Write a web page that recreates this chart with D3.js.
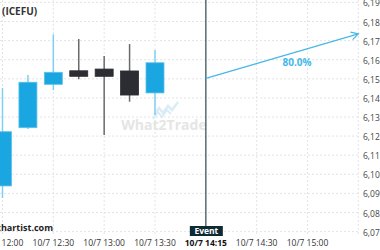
<!DOCTYPE html>
<html>
<head>
<meta charset="utf-8">
<script src="https://cdn.jsdelivr.net/npm/d3@7"></script>
<style>
  body { margin: 0; background: #fff; }
  svg { display: block; font-family: "Open Sans", sans-serif; }
</style>
</head>
<body>
<div id="container"></div>
<script>
// candle data (15 min bars)
const times = ["12:00", "12:15", "12:30", "12:45", "13:00", "13:15", "13:30"];
const opens = [6.0989, 6.1294, 6.1521, 6.1592, 6.1601, 6.1591, 6.1476];
const highs = [6.1502, 6.1570, 6.1783, 6.1758, 6.1669, 6.1732, 6.1701];
const lows = [6.0926, 6.1287, 6.1491, 6.1547, 6.1256, 6.1430, 6.1360];
const closes = [6.1273, 6.1532, 6.1584, 6.1563, 6.1563, 6.1465, 6.1634];

const yTicks = [6.075, 6.085, 6.095, 6.105, 6.115, 6.125, 6.135, 6.145, 6.155, 6.165, 6.175, 6.185, 6.195];
const xTicks = ["12:00", "12:30", "13:00", "13:30", "14:00", "14:30", "15:00", "15:30"];
const xTickLabels = ["10/7 12:00", "10/7 12:30", "10/7 13:00", "10/7 13:30", "10/7 14:15", "10/7 14:30", "10/7 15:00", ""];

const eventTime = "14:00";
const eventPrice = 6.1552;
const targetTime = "15:30";
const targetPrice = 6.1785;
const probability = "80.0%";

const width = 380, height = 250;
const parse = d3.timeParse("%H:%M");

const x = d3.scaleTime()
  .domain([parse("12:00"), parse("15:00")])
  .range([2.5, 307.5]);
const y = d3.scaleLinear()
  .domain([6.075, 6.195])
  .range([231.6, 2.4]);

const svg = d3.select("#container")
  .append("svg")
  .attr("width", width)
  .attr("height", height);

// grid
svg.append("g")
  .selectAll("line")
  .data(yTicks)
  .enter()
  .append("line")
  .attr("x1", 0)
  .attr("x2", 360)
  .attr("y1", d => y(d))
  .attr("y2", d => y(d))
  .style("stroke", "#e4e4e4")
  .style("stroke-dasharray", "2,2");

svg.append("g")
  .selectAll("line")
  .data(xTicks)
  .enter()
  .append("line")
  .attr("x1", d => x(parse(d)))
  .attr("x2", d => x(parse(d)))
  .attr("y1", 0)
  .attr("y2", 236)
  .style("stroke", "#e4e4e4")
  .style("stroke-dasharray", "2,2");

// y labels
svg.append("g")
  .selectAll("text")
  .data(yTicks)
  .enter()
  .append("text")
  .attr("x", 363)
  .attr("y", d => y(d) + 4)
  .style("font-size", "8.5px")
  .style("fill", "#444")
  .text(d => d3.format(".3f")(d).replace(".", ","));

// x labels
svg.append("g")
  .selectAll("text")
  .data(xTicks)
  .enter()
  .append("text")
  .attr("x", d => x(parse(d)))
  .attr("y", 246)
  .attr("text-anchor", "middle")
  .style("font-size", "8.5px")
  .style("font-weight", (d, i) => d == eventTime ? "bold" : "normal")
  .style("fill", (d, i) => d == eventTime ? "#111" : "#333")
  .text((d, i) => xTickLabels[i]);

// watermark
const wm = svg.append("g").attr("opacity", 0.9);
wm.append("polyline")
  .attr("points", "154,115 159,108 163,113 168,106 172,110 178,102")
  .style("fill", "none")
  .style("stroke", "#d6ecf7")
  .style("stroke-width", 2.5);
wm.append("polyline")
  .attr("points", "153,119 158,112 162,117 167,110 171,114")
  .style("fill", "none")
  .style("stroke", "#d6ecf7")
  .style("stroke-width", 2);
wm.append("text")
  .attr("x", 164)
  .attr("y", 130)
  .attr("text-anchor", "middle")
  .style("font-size", "14px")
  .style("font-weight", "bold")
  .style("fill", "#e3e3e3")
  .text("What2Trade");

// candles
const candleW = 18;
const candles = svg.append("g")
  .selectAll("g")
  .data(times.map((t, i) => ({ t: parse(t), o: opens[i], h: highs[i], l: lows[i], c: closes[i] })))
  .enter()
  .append("g");

candles.append("line")
  .attr("x1", d => x(d.t))
  .attr("x2", d => x(d.t))
  .attr("y1", d => y(d.h))
  .attr("y2", d => y(d.l))
  .style("stroke", d => d.c >= d.o ? "#7fd0f0" : "#6a6a6a")
  .style("stroke-width", 1.5);

candles.append("rect")
  .attr("x", d => x(d.t) - candleW / 2)
  .attr("width", candleW)
  .attr("y", d => y(Math.max(d.o, d.c)))
  .attr("height", d => Math.abs(y(d.o) - y(d.c)))
  .style("fill", d => d.c >= d.o ? "#1aa6e0" : "#2c2d33")
  .style("stroke", d => d.c >= d.o ? "#5ec1ea" : "#2c2d33")
  .style("stroke-width", 0.8);

// event line
const ex = x(parse(eventTime));
svg.append("line")
  .attr("x1", ex)
  .attr("x2", ex)
  .attr("y1", 0)
  .attr("y2", 228)
  .style("stroke", "#4b6466")
  .style("stroke-width", 1.4);

svg.append("rect")
  .attr("x", ex - 16)
  .attr("y", 226)
  .attr("width", 33)
  .attr("height", 10)
  .style("fill", "#0f2a32");
svg.append("text")
  .attr("x", ex + 0.5)
  .attr("y", 234)
  .attr("text-anchor", "middle")
  .style("font-size", "8.5px")
  .style("font-weight", "bold")
  .style("fill", "#fff")
  .text("Event");

// forecast arrow
const ax1 = ex, ay1 = y(eventPrice);
const ax2 = x(parse(targetTime)), ay2 = y(targetPrice);
svg.append("line")
  .attr("x1", ax1)
  .attr("y1", ay1)
  .attr("x2", ax2)
  .attr("y2", ay2)
  .style("stroke", "#45b8e8")
  .style("stroke-width", 1.2);
const ang = Math.atan2(ay2 - ay1, ax2 - ax1);
const hl = 8;
svg.append("polyline")
  .attr("points", [
    [ax2 - hl * Math.cos(ang - 0.5), ay2 - hl * Math.sin(ang - 0.5)],
    [ax2, ay2],
    [ax2 - hl * Math.cos(ang + 0.5), ay2 - hl * Math.sin(ang + 0.5)]
  ].map(p => p.join(",")).join(" "))
  .style("fill", "none")
  .style("stroke", "#45b8e8")
  .style("stroke-width", 1.2);
svg.append("text")
  .attr("x", 297)
  .attr("y", 66)
  .attr("text-anchor", "middle")
  .style("font-size", "10px")
  .style("font-weight", "bold")
  .style("fill", "#45b8e8")
  .text(probability);

// title & credit
svg.append("text")
  .attr("x", 2)
  .attr("y", 15)
  .style("font-size", "10px")
  .style("font-weight", "bold")
  .style("fill", "#333")
  .text("(ICEFU)");
svg.append("text")
  .attr("x", 53)
  .attr("y", 231)
  .attr("text-anchor", "end")
  .style("font-size", "9px")
  .style("font-weight", "bold")
  .style("fill", "#222")
  .text("chartist.com");
</script>
</body>
</html>
